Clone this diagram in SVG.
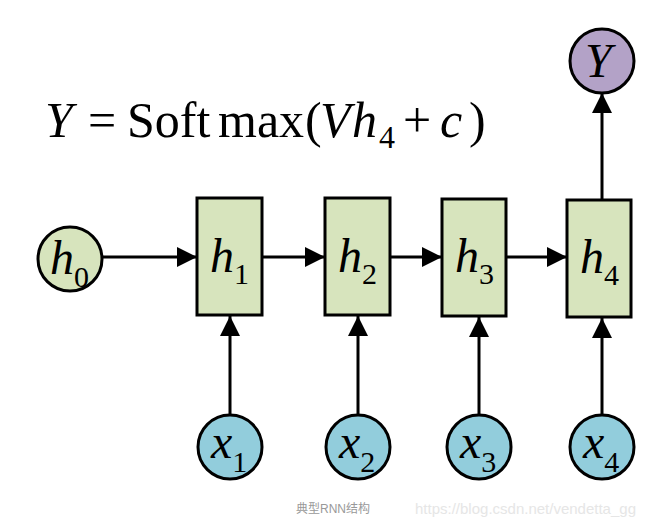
<svg xmlns="http://www.w3.org/2000/svg" width="655" height="526" viewBox="0 0 655 526">
<defs>
<marker id="ah" viewBox="0 0 20 20" refX="20" refY="10" markerWidth="20" markerHeight="20" markerUnits="userSpaceOnUse" orient="auto"><path d="M0,0 L20,10 L0,20 Z" fill="#000"/></marker>
<style>
.box{fill:#d7e4bd;stroke:#000;stroke-width:3}
.cg{fill:#d7e4bd;stroke:#000;stroke-width:3}
.cb{fill:#92cddc;stroke:#000;stroke-width:3}
.cp{fill:#b3a2c7;stroke:#000;stroke-width:3}
.lbl{font-family:"Liberation Serif",serif;font-style:italic;font-size:48px;fill:#000}
.sub{font-style:normal;font-size:30px}
.eq{font-family:"Liberation Serif",serif;font-size:50px;fill:#000}
.it{font-style:italic}
.con{stroke:#000;stroke-width:3;fill:none}
</style>
</defs>
<rect width="655" height="526" fill="#fff"/>
<text class="eq" y="137"><tspan x="45" class="it">Y</tspan><tspan x="88">=</tspan><tspan x="127">Soft</tspan><tspan x="218">max</tspan><tspan x="305">(</tspan><tspan x="320" class="it">V</tspan><tspan x="352" class="it">h</tspan><tspan x="379" font-size="32" dy="11">4</tspan><tspan dy="-11" x="403">+</tspan><tspan x="440" class="it">c</tspan><tspan x="469">)</tspan></text>
<g id="connectors">
<path class="con" d="M102,257 H197" marker-end="url(#ah)"/>
<path class="con" d="M262,257 H325" marker-end="url(#ah)"/>
<path class="con" d="M390,257 H442" marker-end="url(#ah)"/>
<path class="con" d="M506,257 H567" marker-end="url(#ah)"/>
<path class="con" d="M230,415 V316" marker-end="url(#ah)"/>
<path class="con" d="M358,415 V316" marker-end="url(#ah)"/>
<path class="con" d="M479,415 V317" marker-end="url(#ah)"/>
<path class="con" d="M602,415 V318" marker-end="url(#ah)"/>
<path class="con" d="M602,199 V93" marker-end="url(#ah)"/>
</g>
<g id="h0"><circle class="cg" cx="70" cy="259" r="32"/><text class="lbl" x="50" y="274">h<tspan class="sub" dy="13">0</tspan></text></g>
<g id="h1"><rect class="box" x="197" y="198" width="65" height="117"/><text class="lbl" x="210" y="272">h<tspan class="sub" dy="12">1</tspan></text></g>
<g id="h2"><rect class="box" x="325" y="198" width="65" height="117"/><text class="lbl" x="338" y="272">h<tspan class="sub" dy="12">2</tspan></text></g>
<g id="h3"><rect class="box" x="442" y="199" width="64" height="117"/><text class="lbl" x="455" y="272">h<tspan class="sub" dy="12">3</tspan></text></g>
<g id="h4"><rect class="box" x="567" y="200" width="64" height="117"/><text class="lbl" x="580" y="273">h<tspan class="sub" dy="12">4</tspan></text></g>
<g id="Y"><circle class="cp" cx="602" cy="61" r="32"/><text class="lbl" x="585" y="77">Y</text></g>
<g id="x1"><circle class="cb" cx="230" cy="447" r="32"/><text class="lbl" x="211" y="458">x<tspan class="sub" dy="14">1</tspan></text></g>
<g id="x2"><circle class="cb" cx="358" cy="447" r="32"/><text class="lbl" x="339" y="458">x<tspan class="sub" dy="14">2</tspan></text></g>
<g id="x3"><circle class="cb" cx="479" cy="447" r="32"/><text class="lbl" x="460" y="458">x<tspan class="sub" dy="14">3</tspan></text></g>
<g id="x4"><circle class="cb" cx="602" cy="447" r="32"/><text class="lbl" x="583" y="458">x<tspan class="sub" dy="14">4</tspan></text></g>
<text x="296" y="513" font-family="'Liberation Sans','Noto Sans CJK SC',sans-serif" font-size="12" fill="#999">典型RNN结构</text>
<text x="415" y="514" font-family="'Liberation Sans',sans-serif" font-size="15" fill="#e6e6e6">https://blog.csdn.net/vendetta_gg</text>
</svg>
